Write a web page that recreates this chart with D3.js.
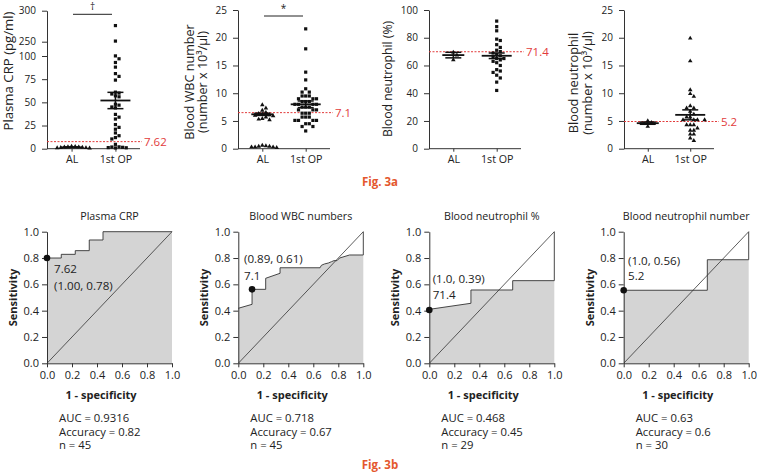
<!DOCTYPE html>
<html><head><meta charset="utf-8">
<script src="https://cdn.jsdelivr.net/npm/d3@7"></script>
<style>
body{margin:0;background:#fff}
text{font-family:"Open Sans",sans-serif;fill:#222}
</style>
</head><body>
<svg id="c" width="757" height="474"></svg>
<script>
// ---------------- DATA ----------------
const groups = ["AL", "1st OP"];

// Fig 3a – scatter values
const crpAL = [2.5, 2.2, 2.0, 1.8, 1.6, 1.4, 1.2, 1.0, 0.8, 0.5];
const crpOP = [276, 251, 101, 97, 93, 88, 81, 78, 74, 61, 60, 59, 57, 56, 48, 47, 45, 44, 37, 34, 32, 26, 23, 21, 17, 14, 12, 10.5, 4.7, 2, 1.8, 1.5, 1.2, 1.0, 0.8];
const wbcAL = [7.9, 7.3, 6.9, 6.5, 6.3, 6.2, 6.1, 6.0, 5.9, 5.7, 5.4, 5.3, 5.2, 0.6, 0.5, 0.4, 0.4, 0.3, 0.3, 0.3, 0.2];
const wbcOP = [21.6, 18.0, 13.8, 12.4, 10.8, 10.2, 10.2, 9.5, 9.5, 9.5, 9.0, 9.0, 9.0, 8.5, 8.5, 8.5, 8.0, 8.0, 8.0, 8.0, 7.5, 7.5, 7.5, 7.0, 7.0, 7.0, 6.4, 6.4, 6.4, 5.7, 5.7, 5.7, 5.1, 5.1, 5.1, 5.1, 4.5, 4.5, 4.0, 4.0, 3.2];
const neuPctAL = [69.5, 67.5, 64];
const neuPctOP = [92, 88, 85, 79, 78, 75, 73, 71, 70, 69, 68, 67, 66, 65, 64, 63, 62, 60, 57, 56, 55, 53, 51, 48, 42, 65];
const neuNumAL = [5.0, 4.7, 4.5, 4.0];
const neuNumOP = [19.9, 15.8, 10.6, 9.9, 9.4, 7.7, 7.3, 7.3, 6.7, 6.2, 5.7, 5.7, 5.2, 5.2, 5.2, 5.2, 4.3, 4.3, 4.3, 3.7, 3.3, 3.3, 2.6, 2.6, 1.9, 1.45];

// means and SEM  [AL, 1st OP]
const crpMean = [1.5, 52];   const crpSem = [0.4, 8.8];
const wbcMean = [6.2, 8.0];  const wbcSem = [0.2, 0.6];
const neuPctMean = [67.5, 67]; const neuPctSem = [2, 2];
const neuNumMean = [4.6, 6.1]; const neuNumSem = [0.2, 0.9];

// cut-off lines (drawn value, label)
const cutLineValues = [7.62, 6.5, 69.9, 4.9];
const cutLineLabels = ["7.62", "7.1", "71.4", "5.2"];

// y-axis ticks
const crpTicks = [0, 25, 50, 75, 100, 250, 300];
const wbcTicks = [0, 5, 10, 15, 20, 25];
const neuPctTicks = [0, 20, 40, 60, 80, 100];
const neuNumTicks = [0, 5, 10, 15, 20, 25];

const topLabels = [["Plasma CRP (pg/ml)"], ["Blood WBC number", "(number x 10³/μl)"], ["Blood neutrophil (%)"], ["Blood neutrophil", "(number x 10³/μl)"]];
const sigMarks = ["†", "*", "", ""];

// Fig 3b – ROC curves
const rocTitles = ["Plasma CRP", "Blood WBC numbers", "Blood neutrophil %", "Blood neutrophil number"];
const crpFpr = [0, 0.114, 0.114, 0.226, 0.226, 0.338, 0.338, 0.448, 0.448, 1, 1];
const crpTpr = [0.80, 0.80, 0.828, 0.828, 0.856, 0.856, 0.937, 0.937, 1, 1, 1];
const wbcFpr = [0, 0.11, 0.11, 0.219, 0.219, 0.334, 0.334, 0.654, 0.665, 0.69, 0.72, 0.745, 0.765, 0.79, 0.81, 0.89, 1, 1];
const wbcTpr = [0.418, 0.448, 0.562, 0.562, 0.646, 0.684, 0.726, 0.726, 0.745, 0.755, 0.762, 0.772, 0.78, 0.78, 0.80, 0.823, 0.823, 1];
const neuPctFpr = [0, 0.333, 0.333, 0.667, 0.667, 1, 1];
const neuPctTpr = [0.41, 0.456, 0.557, 0.557, 0.628, 0.628, 1];
const neuNumFpr = [0, 0.669, 0.669, 1, 1];
const neuNumTpr = [0.555, 0.555, 0.787, 0.787, 1];
const cutFpr = [0, 0.11, 0, 0];
const cutTpr = [0.80, 0.562, 0.405, 0.555];
const cutNotes = [["7.62", "(1.00, 0.78)"], ["(0.89, 0.61)", "7.1"], ["(1.0, 0.39)", "71.4"], ["(1.0, 0.56)", "5.2"]];
const rocTicks = [0, 0.2, 0.4, 0.6, 0.8, 1.0];
const aucText = [
  ["AUC = 0.9316", "Accuracy = 0.82", "n = 45"],
  ["AUC = 0.718", "Accuracy = 0.67", "n = 45"],
  ["AUC = 0.468", "Accuracy = 0.45", "n = 29"],
  ["AUC = 0.63", "Accuracy = 0.6", "n = 30"]
];
const figLabels = ["Fig. 3a", "Fig. 3b"];

// ---------------- DRAW ----------------
const svg = d3.select("#c");
const RED = "#e23b3b", FIG = "#e4572e";

function beeswarm(values, y, cx, s) {
  const placed = [];
  const order = values.map((v, i) => i).sort((a, b) => values[b] - values[a]);
  const out = new Array(values.length);
  order.forEach(i => {
    const py = y(values[i]);
    for (let k = 0; k < 40; k++) {
      const off = (k === 0 ? 0 : (k % 2 ? 1 : -1) * Math.ceil(k / 2)) * s;
      const px = cx + off;
      if (placed.every(p => Math.hypot(p[0] - px, p[1] - py) >= s)) {
        placed.push([px, py]); out[i] = [px, py]; break;
      }
    }
  });
  return out;
}

const topPanels = [
  {ax: 47, w: 93, dom: [0, 100, 250, 300], rng: [148.7, 56, 41.7, 10.7], ticks: crpTicks, data: [crpAL, crpOP], mean: crpMean, sem: crpSem, markers: ["tri", "sq"], labX: [12.5], labY: 71, fs: 13.2, sig: [73, 112, 14.3]},
  {ax: 238, w: 92, dom: [0, 25], rng: [148.7, 10], ticks: wbcTicks, data: [wbcAL, wbcOP], mean: wbcMean, sem: wbcSem, markers: ["tri", "sq"], labX: [193.5, 207], labY: 82, fs: 12.6, sig: [264, 303, 16]},
  {ax: 429, w: 92, dom: [0, 100], rng: [148.7, 10], ticks: neuPctTicks, data: [neuPctAL, neuPctOP], mean: neuPctMean, sem: neuPctSem, markers: ["tri", "sq"], labX: [391.5], labY: 79, fs: 12.2},
  {ax: 624, w: 90, dom: [0, 25], rng: [148.7, 10], ticks: neuNumTicks, data: [neuNumAL, neuNumOP], mean: neuNumMean, sem: neuNumSem, markers: ["tri", "tri"], labX: [577.5, 592], labY: 83, fs: 12.8}
];

topPanels.forEach((P, pi) => {
  const g = svg.append("g");
  const y = d3.scaleLinear().domain(P.dom).range(P.rng);
  const x = d3.scalePoint().domain(groups).range([P.ax, P.ax + P.w]).padding(0.56);
  const yb = P.rng[0];
  // axes
  const ya = g.append("g").attr("transform", `translate(${P.ax},0)`)
    .call(d3.axisLeft(y).tickValues(P.ticks).tickSize(5).tickPadding(6).tickSizeOuter(0));
  ya.selectAll("text").style("font-size", "10px").style("font-family", "Open Sans");
  const xa = g.append("g").attr("transform", `translate(0,${yb})`)
    .call(d3.axisBottom(x).tickSize(3).tickPadding(4).tickSizeOuter(0));
  xa.selectAll("text").style("font-size", "10.7px").style("font-family", "Open Sans");
  xa.select(".domain").attr("d", `M${P.ax},0H${P.ax + P.w}`);
  g.selectAll(".domain").attr("stroke", "#333");
  g.selectAll(".tick line").attr("stroke", "#333");
  // cut-off line
  const cy = y(cutLineValues[pi]);
  g.append("line").attr("x1", P.ax).attr("x2", P.ax + 95).attr("y1", cy).attr("y2", cy)
    .attr("stroke", RED).attr("stroke-width", 1).attr("stroke-dasharray", "2,1.5");
  g.append("text").attr("x", P.ax + 97).attr("y", cy + 4).text(cutLineLabels[pi])
    .style("font-size", "11.5px").style("fill", RED);
  // points
  P.data.forEach((vals, gi) => {
    const pos = beeswarm(vals, y, x(groups[gi]), 3.6);
    pos.forEach(p => {
      if (P.markers[gi] === "sq") {
        g.append("rect").attr("x", p[0] - 1.6).attr("y", p[1] - 1.6).attr("width", 3.2).attr("height", 3.2).attr("fill", "#111");
      } else {
        g.append("path").attr("d", d3.symbol(d3.symbolTriangle, 9)()).attr("transform", `translate(${p[0]},${p[1]})`).attr("fill", "#111");
      }
    });
    // mean + sem
    const cx = x(groups[gi]);
    const hw = gi === 0 ? 11 : 15;
    const m = y(P.mean[gi]), lo = y(P.mean[gi] - P.sem[gi]), hi = y(P.mean[gi] + P.sem[gi]);
    g.append("line").attr("x1", cx - hw).attr("x2", cx + hw).attr("y1", m).attr("y2", m).attr("stroke", "#111").attr("stroke-width", 1.8);
    g.append("line").attr("x1", cx).attr("x2", cx).attr("y1", lo).attr("y2", hi).attr("stroke", "#111").attr("stroke-width", 1.5);
    [lo, hi].forEach(v => g.append("line").attr("x1", cx - 8).attr("x2", cx + 8).attr("y1", v).attr("y2", v).attr("stroke", "#111").attr("stroke-width", 1.5));
  });
  // significance
  if (P.sig) {
    g.append("line").attr("x1", P.sig[0]).attr("x2", P.sig[1]).attr("y1", P.sig[2]).attr("y2", P.sig[2]).attr("stroke", "#222").attr("stroke-width", 1);
    g.append("text").attr("x", (P.sig[0] + P.sig[1]) / 2).attr("y", P.sig[2] - 4).attr("text-anchor", "middle")
      .text(sigMarks[pi]).style("font-size", "10px");
  }
  // y label
  topLabels[pi].forEach((t, li) => {
    g.append("text").attr("transform", `translate(${P.labX[li]},${P.labY}) rotate(-90)`)
      .attr("text-anchor", "middle").text(t).style("font-size", P.fs + "px");
  });
});

// ROC
const rocData = [[crpFpr, crpTpr], [wbcFpr, wbcTpr], [neuPctFpr, neuPctTpr], [neuNumFpr, neuNumTpr]];
const rocAx = [47, 238.3, 429.3, 623.7];
const notePos = [[54, 273, 290], [244, 263, 280], [432.7, 283, 299], [628, 265, 280]];
rocData.forEach((D, pi) => {
  const g = svg.append("g");
  const ax = rocAx[pi];
  const x = d3.scaleLinear().domain([0, 1]).range([ax, ax + 125]);
  const y = d3.scaleLinear().domain([0, 1]).range([363.3, 231.7]);
  const pts = D[0].map((f, i) => [f, D[1][i]]);
  g.append("path").datum(pts)
    .attr("d", d3.area().x(d => x(d[0])).y0(y(0)).y1(d => y(d[1])))
    .attr("fill", "#d4d4d4");
  g.append("path").datum(pts)
    .attr("d", d3.line().x(d => x(d[0])).y(d => y(d[1])))
    .attr("fill", "none").attr("stroke", "#333").attr("stroke-width", 0.9);
  g.append("line").attr("x1", x(0)).attr("y1", y(0)).attr("x2", x(1)).attr("y2", y(1))
    .attr("stroke", "#333").attr("stroke-width", 0.8);
  g.append("g").attr("transform", `translate(${ax},0)`)
    .call(d3.axisLeft(y).tickValues(rocTicks).tickFormat(d3.format(".1f")).tickSize(5).tickPadding(3).tickSizeOuter(0));
  g.append("g").attr("transform", `translate(0,${y(0)})`)
    .call(d3.axisBottom(x).tickValues(rocTicks).tickFormat(d3.format(".1f")).tickSize(4).tickPadding(4).tickSizeOuter(0));
  g.selectAll(".tick text").style("font-size", "11px").style("font-family", "Open Sans");
  g.selectAll(".domain").attr("stroke", "#333");
  g.selectAll(".tick line").attr("stroke", "#333");
  g.append("circle").attr("cx", x(cutFpr[pi])).attr("cy", y(cutTpr[pi])).attr("r", 3.3).attr("fill", "#111");
  cutNotes[pi].forEach((t, li) => {
    g.append("text").attr("x", notePos[pi][0]).attr("y", notePos[pi][li + 1]).text(t).style("font-size", "11.6px");
  });
  g.append("text").attr("x", ax + 62.5).attr("y", 219.5).attr("text-anchor", "middle")
    .text(rocTitles[pi]).style("font-size", "10.7px");
  g.append("text").attr("transform", `translate(${ax - 30},297.5) rotate(-90)`).attr("text-anchor", "middle")
    .text("Sensitivity").style("font-size", "11px").style("font-weight", "bold");
  g.append("text").attr("x", ax + 54).attr("y", 399).attr("text-anchor", "middle")
    .text("1 - specificity").style("font-size", "11px").style("font-weight", "bold");
  aucText[pi].forEach((t, li) => {
    g.append("text").attr("x", ax + 12).attr("y", 422 + li * 13.7).text(t).style("font-size", "11.3px");
  });
});

figLabels.forEach((t, i) => {
  svg.append("text").attr("x", 380).attr("y", i === 0 ? 186 : 469).attr("text-anchor", "middle")
    .text(t).style("font-size", "11.5px").style("font-weight", "bold").style("fill", FIG);
});
</script>
</body></html>
